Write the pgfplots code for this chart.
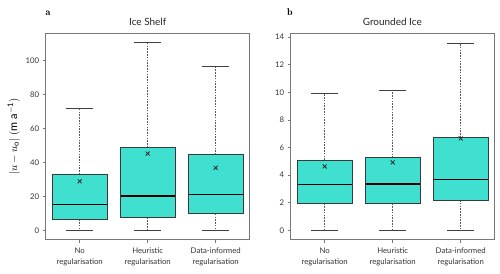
\documentclass[border=0pt]{standalone}
\usepackage{pgfplots}
\pgfplotsset{compat=1.18}
\usepgfplotslibrary{statistics}
\usepackage{fontspec}
\setmainfont{Lato}
\definecolor{boxfill}{HTML}{40E0D0}
\definecolor{edge}{HTML}{3A3A3A}
\definecolor{frame}{HTML}{777777}
\pgfplotsset{
  myaxis/.style={
    scale only axis, width=204bp, height=206.4bp,
    xmin=-0.5, xmax=2.5,
    xtick={0,1,2},
    xticklabels={{No\\regularisation},{Heuristic\\regularisation},{Data-informed\\regularisation}},
    xticklabel style={align=center, font=\fontsize{7.8}{11.5}\selectfont, text=black!80, yshift=-1.5bp},
    yticklabel style={font=\fontsize{7.8}{9}\selectfont, text=black!80},
    /pgf/number format/assume math mode=true,
    tick align=outside, tick pos=left,
    major tick length=3bp,
    every tick/.style={frame, line width=0.6pt},
    axis line style={frame, line width=0.8pt},
    boxplot/draw direction=y,
    boxplot/box extend=0.8,
    boxplot/whisker extend=0.4,
    boxplot/every box/.style={draw=edge, fill=boxfill, line width=0.8pt},
    boxplot/every median/.style={black, line width=1.4pt},
    boxplot/draw/lower whisker/.code={%
      \draw[dashed, dash pattern=on 1.6pt off 1.2pt, black!65, line width=0.7pt]
        (boxplot cs:\pgfplotsboxplotvalue{lower quartile}) -- (boxplot cs:\pgfplotsboxplotvalue{lower whisker});
      \draw[black!75, line width=0.8pt]
        (boxplot whisker cs:\pgfplotsboxplotvalue{lower whisker},0) -- (boxplot whisker cs:\pgfplotsboxplotvalue{lower whisker},1);
    },
    boxplot/draw/upper whisker/.code={%
      \draw[dashed, dash pattern=on 1.6pt off 1.2pt, black!65, line width=0.7pt]
        (boxplot cs:\pgfplotsboxplotvalue{upper quartile}) -- (boxplot cs:\pgfplotsboxplotvalue{upper whisker});
      \draw[black!75, line width=0.8pt]
        (boxplot whisker cs:\pgfplotsboxplotvalue{upper whisker},0) -- (boxplot whisker cs:\pgfplotsboxplotvalue{upper whisker},1);
    },
  },
  meanmark/.style={only marks, mark=x, mark size=2.8bp, mark options={black!85, line width=0.8pt}},
}
\begin{document}
\begin{tikzpicture}[x=1bp,y=1bp]
\useasboundingbox (0,0) rectangle (500,273);
\begin{axis}[myaxis, at={(45.7bp,33.3bp)}, anchor=south west,
  ymin=-5.5, ymax=116, ytick={0,20,40,60,80,100},
  ylabel={$|u-u_{\mathrm{o}}|$ $(\mathrm{m\ a^{-1}})$},
  ylabel style={font=\fontsize{11}{13}\selectfont, yshift=-1bp}]
\addplot+[boxplot prepared={draw position=0, lower whisker=0, lower quartile=6.5, median=15.4, upper quartile=32.8, upper whisker=72}, draw=edge] coordinates {};
\addplot+[boxplot prepared={draw position=1, lower whisker=0, lower quartile=7.5, median=20.3, upper quartile=48.7, upper whisker=110.5}, draw=edge] coordinates {};
\addplot+[boxplot prepared={draw position=2, lower whisker=0, lower quartile=9.8, median=21.0, upper quartile=44.5, upper whisker=96.4}, draw=edge] coordinates {};
\addplot[meanmark] coordinates {(0,28.9) (1,45.2) (2,36.8)};
\end{axis}
\begin{axis}[myaxis, at={(290.7bp,33.3bp)}, anchor=south west,
  ymin=-0.68, ymax=14.28, ytick={0,2,4,6,8,10,12,14}]
\addplot+[boxplot prepared={draw position=0, lower whisker=0, lower quartile=1.95, median=3.3, upper quartile=5.1, upper whisker=9.95}, draw=edge] coordinates {};
\addplot+[boxplot prepared={draw position=1, lower whisker=0, lower quartile=1.95, median=3.35, upper quartile=5.25, upper whisker=10.15}, draw=edge] coordinates {};
\addplot+[boxplot prepared={draw position=2, lower whisker=0, lower quartile=2.2, median=3.7, upper quartile=6.72, upper whisker=13.55}, draw=edge] coordinates {};
\addplot[meanmark] coordinates {(0,4.63) (1,4.92) (2,6.66)};
\end{axis}
\node[font=\fontsize{10}{12}\selectfont, text=black!85] at (147.7,251.5) {Ice Shelf};
\node[font=\fontsize{10}{12}\selectfont, text=black!85] at (392.3,251.5) {Grounded Ice};
\node[font=\fontfamily{lmr}\bfseries\fontsize{10}{12}\selectfont, anchor=base] at (48,258) {a};
\node[font=\fontfamily{lmr}\bfseries\fontsize{10}{12}\selectfont, anchor=base] at (290,258) {b};
\end{tikzpicture}
\end{document}
